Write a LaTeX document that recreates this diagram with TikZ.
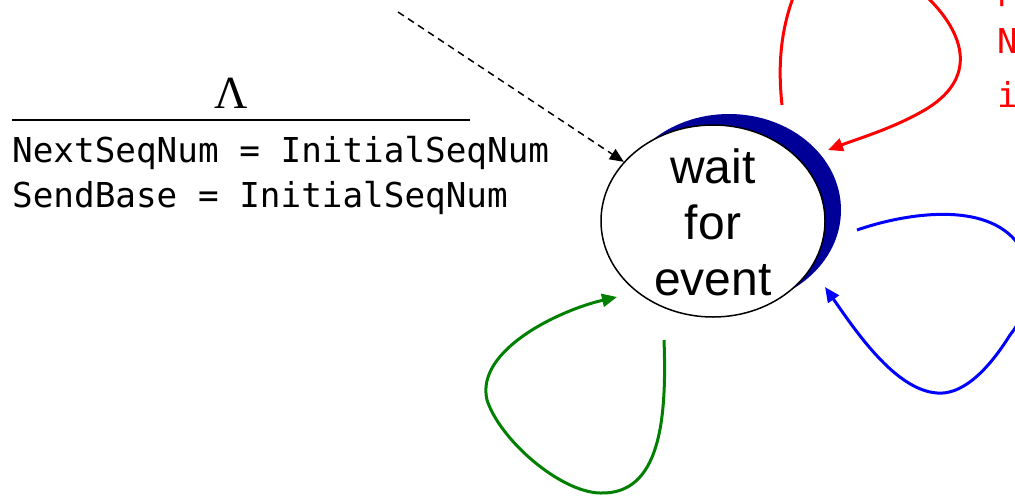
\documentclass[tikz,border=0pt]{standalone}
\usepackage{fontspec}
\setsansfont{Liberation Sans}
\setmonofont{DejaVu Sans Mono}
\newfontfamily\lambdafont{Liberation Serif}
\usetikzlibrary{arrows.meta,shapes.geometric}
\definecolor{shadowblue}{RGB}{0,0,153}
\definecolor{loopgreen}{RGB}{0,128,0}
\begin{document}
\begin{tikzpicture}[x=1pt,y=-1pt,
  codeline/.style={font=\fontsize{34.3}{40}\selectfont\ttfamily, inner sep=0pt, anchor=base west},
  statebox/.style={ellipse, draw=black, line width=1.5pt, fill=white,
    minimum width=224pt, minimum height=192pt, inner sep=0pt},
  loopline/.style={line width=3pt, -{Triangle[length=15pt,width=13pt]}},
  initline/.style={line width=1.5pt, dash pattern=on 7pt off 5pt,
    -{Triangle[length=14pt,width=12pt]}}]
\useasboundingbox (0,0) rectangle (1015,496);
\clip (0,0) rectangle (1015,496);

% state with its drop shadow
\node[ellipse, fill=shadowblue, minimum width=224pt, minimum height=192pt,
  inner sep=0pt] (stateShadow) at (729,210) {};
\node[statebox] (state) at (713,221) {};
\node[font=\fontsize{48}{56}\selectfont\sffamily, align=center, inner sep=0pt]
  (stateText) at (713,222) {wait\\for\\event};

% initial transition and its action
\coordinate (initStart) at (398,12);
\draw[initline] (initStart) -- (state);
\node[font=\fontsize{46}{50}\selectfont\lambdafont, inner sep=0pt, anchor=base]
  (lambda) at (231,108) {Λ};
\coordinate (barL) at (12,120);
\coordinate (barR) at (470,120);
\draw[line width=1.5pt] (barL) -- (barR);
\node[codeline] (init1) at (12,162) {NextSeqNum = InitialSeqNum};
\node[codeline] (init2) at (12,207) {SendBase = InitialSeqNum};

% data received from application above
\node[codeline, text=red] (red1) at (997,-1) {pass segment to IP};
\node[codeline, text=red] (red2) at (997,53) {NextSeqNum = NextSeqNum + length(data)};
\node[codeline, text=red] (red3) at (997,107) {if (timer currently not running)};
\coordinate (redOut) at (782,105);
\coordinate (redIn) at (828,150);
\draw[loopline, red] (redOut)
  .. controls (776,50) and (785,10) .. (805,-30)
  .. controls (840,-90) and (900,-60) .. (925,-5)
  .. controls (962,30) and (980,75) .. (928,108)
  .. controls (897,127) and (860,138) .. (redIn);

% timeout
\coordinate (blueOut) at (857,230);
\coordinate (blueIn) at (825,287);
\draw[loopline, blue] (blueOut)
  .. controls (900,215) and (980,200) .. (1015,240)
  .. controls (1040,270) and (1030,310) .. (1010,335)
  .. controls (985,375) and (960,395) .. (937,393)
  .. controls (895,390) and (855,330) .. (blueIn);

% ACK received
\coordinate (greenOut) at (664,340);
\coordinate (greenIn) at (617,297);
\draw[loopline, loopgreen] (greenOut)
  .. controls (667,420) and (660,495) .. (600,493)
  .. controls (560,492) and (500,440) .. (487,400)
  .. controls (475,350) and (560,310) .. (greenIn);
\end{tikzpicture}
\end{document}
